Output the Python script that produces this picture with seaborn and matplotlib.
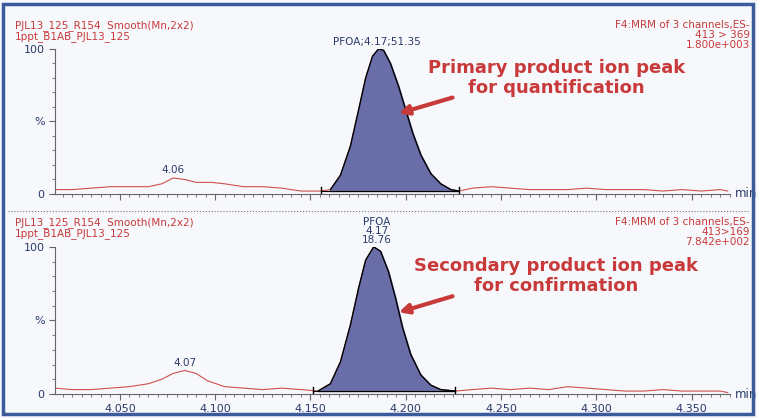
import numpy as np
import pandas as pd
import matplotlib.pyplot as plt
from matplotlib.ticker import MultipleLocator
import seaborn as sns

# top trace (413 > 369)
top_t = [4.016, 4.025, 4.035, 4.045, 4.055, 4.065, 4.072, 4.078, 4.084, 4.090, 4.098, 4.105,
         4.115, 4.125, 4.135, 4.145, 4.155, 4.1605, 4.1658, 4.171, 4.1753, 4.179, 4.1826,
         4.1858, 4.1884, 4.192, 4.1963, 4.200, 4.2037, 4.2079, 4.2132, 4.2184, 4.2237,
         4.2279, 4.235, 4.245, 4.255, 4.265, 4.275, 4.285, 4.295, 4.305, 4.315, 4.325,
         4.335, 4.345, 4.355, 4.365, 4.369]
top_i = [3, 3, 4, 5, 5, 5, 7, 11, 10, 8, 8, 7, 5, 5, 4, 2, 2, 3, 13, 33, 58, 80, 95,
         100, 99, 90, 74, 58, 42, 27, 14, 7, 3, 2, 4, 5, 4, 3, 3, 3, 4, 3, 3, 3,
         2, 3, 2, 3, 2]
# bottom trace (413 > 169)
bot_t = [4.016, 4.025, 4.035, 4.045, 4.055, 4.065, 4.072, 4.078, 4.084, 4.090, 4.096,
         4.105, 4.115, 4.125, 4.135, 4.145, 4.154, 4.1605, 4.1658, 4.171, 4.1753, 4.179,
         4.1832, 4.1868, 4.191, 4.1947, 4.1984, 4.2026, 4.2079, 4.2132, 4.2184, 4.226,
         4.235, 4.245, 4.255, 4.265, 4.275, 4.285, 4.295, 4.305, 4.315, 4.325, 4.335,
         4.345, 4.355, 4.365, 4.369]
bot_i = [4, 3, 3, 4, 5, 7, 10, 14, 16, 14, 9, 5, 4, 3, 4, 3, 2, 7, 22, 47, 72, 91,
         100, 97, 83, 65, 45, 27, 13, 6, 3, 2, 3, 4, 3, 4, 3, 5, 4, 3, 2, 2, 3, 2, 2, 2, 1]

panels = [
    dict(t=top_t, i=top_i, start=4.1555, end=4.2279, rect=[0.0726, 0.536, 0.89, 0.347],
         hdr=["PJL13_125_R154  Smooth(Mn,2x2)", "1ppt_B1AB_PJL13_125"],
         right=["F4:MRM of 3 channels,ES-", "413 > 369", "1.800e+003"],
         plab="PFOA;4.17;51.35", small=("4.06", 4.078, 11),
         note="Primary product ion peak\nfor quantification", ticks=False),
    dict(t=bot_t, i=bot_i, start=4.1515, end=4.226, rect=[0.0726, 0.0574, 0.89, 0.352],
         hdr=["PJL13_125_R154  Smooth(Mn,2x2)", "1ppt_B1AB_PJL13_125"],
         right=["F4:MRM of 3 channels,ES-", "413>169", "7.842e+002"],
         plab="PFOA\n4.17\n18.76", small=("4.07", 4.084, 16),
         note="Secondary product ion peak\nfor confirmation", ticks=True),
]

red = "#c83a3a"
navy = "#2a3a6a"
fig = plt.figure(figsize=(7.58, 4.18), dpi=100, facecolor="#f7f8fb")
fig.add_artist(plt.Rectangle((0.004, 0.01), 0.99, 0.98, transform=fig.transFigure,
                             fill=False, ec="#3b5b9a", lw=2.5))
fig.add_artist(plt.Line2D([0.01, 0.99], [0.495, 0.495], color="#777777", lw=0.8, ls=":"))

for p in panels:
    ax = fig.add_axes(p["rect"])
    ax.set_facecolor("none")
    df = pd.DataFrame({"t": p["t"], "i": p["i"]})
    t = np.array(p["t"]); i = np.array(p["i"])
    m = (t >= p["start"]) & (t <= p["end"])
    sns.lineplot(data=df, x="t", y="i", estimator=None, color="#d05050", lw=0.8, ax=ax,
                 zorder=1)
    ax.fill_between(t[m], 2, i[m], color="#6a6ea8", zorder=2)
    ax.plot(t[m], i[m], color="black", lw=1.0, zorder=3)
    ax.plot([p["start"], p["end"]], [2, 2], color="black", lw=0.8, zorder=3)
    for x in (p["start"], p["end"]):
        ax.plot([x, x], [0, 5], color="black", lw=1, zorder=3)
    ax.set_xlim(4.016, 4.37)
    ax.set_ylim(0, 100)
    ax.set_yticks([0, 50, 100])
    ax.set_yticklabels(["0", "%", "100"], fontsize=8, color=navy)
    ax.yaxis.set_minor_locator(MultipleLocator(10))
    ax.xaxis.set_major_locator(MultipleLocator(0.05))
    ax.xaxis.set_minor_locator(MultipleLocator(0.005))
    if p["ticks"]:
        ax.set_xticklabels([f"{v:.3f}" for v in ax.get_xticks()], fontsize=8, color=navy)
    else:
        ax.set_xticklabels([])
    ax.tick_params(colors="#666666", labelcolor=navy, length=4)
    ax.tick_params(which="minor", length=2, colors="#666666")
    for s in ("top", "right"):
        ax.spines[s].set_visible(False)
    for s in ("left", "bottom"):
        ax.spines[s].set_color("#666666")
    ax.set_xlabel(""); ax.set_ylabel("")
    ax.text(1.008, 0.0, "min", transform=ax.transAxes, fontsize=8.5, color=navy, va="center")
    ax.text(-0.06, 1.2, p["hdr"][0] + "\n" + p["hdr"][1], transform=ax.transAxes,
            fontsize=7.5, color=red, va="top", linespacing=1.0)
    ax.text(1.03, 1.2, "\n".join(p["right"]), transform=ax.transAxes, fontsize=7.5,
            color=red, va="top", ha="right", linespacing=1.0)
    ax.text(4.185, 101, p["plab"], fontsize=7.5, color=navy, ha="center", va="bottom",
            linespacing=0.9)
    ax.text(p["small"][1], p["small"][2] + 2, p["small"][0], fontsize=7.5, color=navy,
            ha="center", va="bottom")
    ax.text(4.279, 80, p["note"], fontsize=13, fontweight="bold", color=red,
            ha="center", va="center", linespacing=1.15)
    ax.annotate("", xy=(4.195, 55), xytext=(4.226, 67),
                arrowprops=dict(arrowstyle="-|>", color=red, lw=3, mutation_scale=14))

fig.savefig("out.png", dpi=100, facecolor=fig.get_facecolor())
